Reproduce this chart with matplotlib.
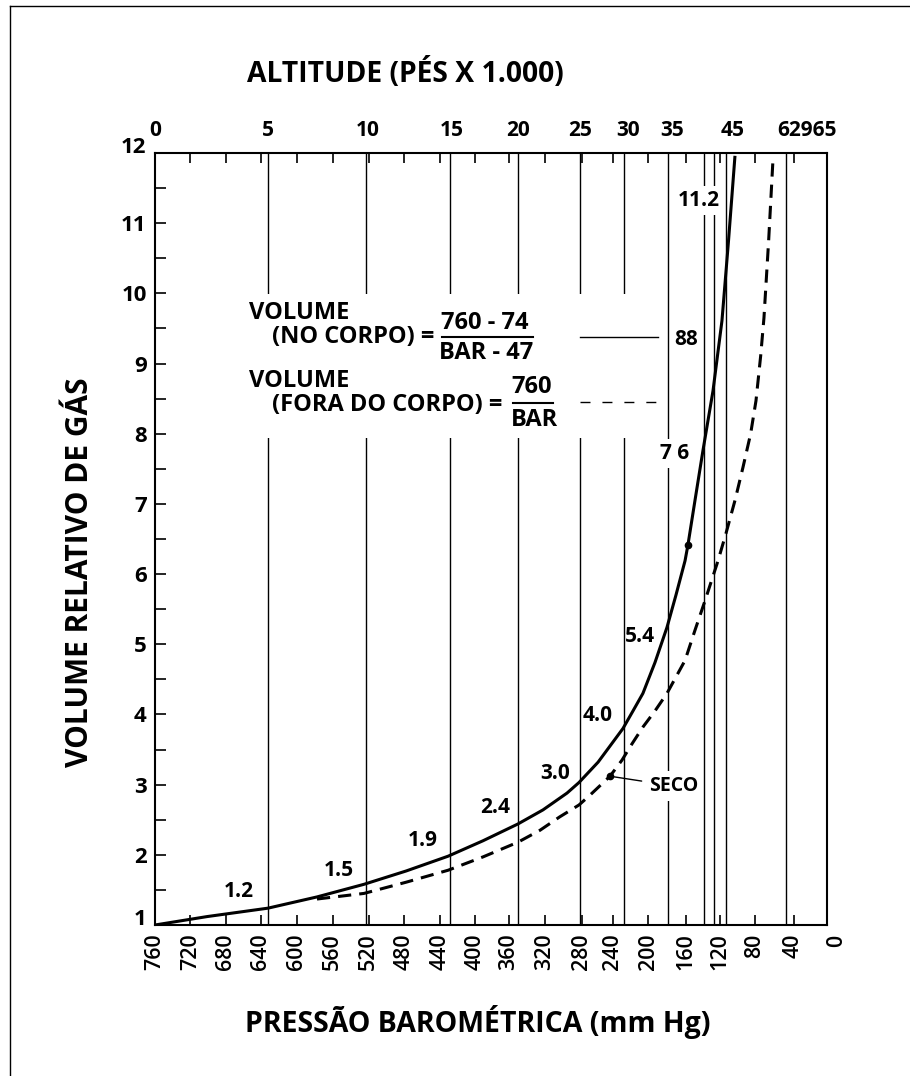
import numpy as np
import matplotlib
matplotlib.use('Agg')
import matplotlib.pyplot as plt
import matplotlib.transforms as mtransforms
from matplotlib.lines import Line2D
from matplotlib.patches import Rectangle

plt.rcParams['font.family'] = ['Open Sans', 'DejaVu Sans']
plt.rcParams['lines.scale_dashes'] = False

# ---------------- data ----------------
pressure_ticks = [760, 720, 680, 640, 600, 560, 520, 480, 440, 400, 360,
                  320, 280, 240, 200, 160, 120, 80, 40]
volume_ticks = list(range(1, 13))
volume_minor = [1.5, 2.5, 3.5, 4.5, 5.5, 6.5, 7.5, 8.5, 9.5, 10.5, 11.5]

# altitude reference lines (mm Hg at 5k ... 63k ft)
altitude_line_pressure = [632, 523, 429, 349, 282, 226, 179, 141, 128, 111, 47]
altitude_labels = ['0', '5', '10', '15', '20', '25', '30', '35', '45', '62965']
altitude_label_pressure = [760, 632, 521, 427, 349, 282, 222, 175, 104, 28]

# in body (solid)
body_pressure = [760, 701, 632, 577.5, 525.2, 478, 431.2, 390.2, 349, 322,
                 296, 283.1, 259, 243.8, 227.3, 216.4, 205.8, 192.9, 180.1,
                 170.6, 161, 158, 150.5, 142.1, 129.3, 116.7, 108.3, 101.4]
body_volume = [1.00, 1.12, 1.24, 1.40, 1.58, 1.77, 1.98, 2.20, 2.44, 2.64,
               2.88, 3.03, 3.32, 3.55, 3.80, 4.05, 4.30, 4.74, 5.24,
               5.70, 6.19, 6.41, 7.05, 7.76, 8.61, 9.61, 10.75, 11.96]

# outside body (dashed)
dry_pressure = [577.5, 525.2, 478, 431.2, 390.2, 349, 325.2, 304, 283.1,
                269.3, 243.8, 228.5, 217.5, 205.8, 192.9, 180.1, 161, 150.5,
                139.7, 122.3, 111, 101.4, 92.9, 84.7, 79.0, 74.0, 70.5,
                65.5, 60.9]
dry_volume = [1.37, 1.45, 1.61, 1.78, 1.97, 2.18, 2.35, 2.54, 2.71,
              2.85, 3.12, 3.35, 3.58, 3.82, 4.05, 4.30, 4.77, 5.20,
              5.62, 6.19, 6.58, 7.05, 7.52, 8.00, 8.47, 9.11, 9.65,
              10.75, 11.90]

body_dot = (158, 6.41)
dry_dot = (243.8, 3.12)

curve_labels = ['1.2', '1.5', '1.9', '2.4', '3.0', '4.0', '5.4', '7 6', '88', '11.2']
curve_label_pos = [(665, 1.48), (553, 1.78), (460, 2.20), (376, 2.68),
                   (309, 3.16), (259, 3.99), (209, 5.11), (172, 7.72),
                   (160, 9.34), (147, 11.32)]

# ---------------- scale (hand-drawn pressure axis) ----------------
scale_p = np.array([760, 632, 523, 429, 349, 282, 226, 179, 141, 128, 111, 47, 0], float)
scale_px = np.array([155, 268, 366, 450, 518, 580, 624, 668, 704, 714, 726, 786, 837], float)


def fwd(p):
    # increasing with pressure
    return -np.interp(-np.asarray(p, float), -scale_p, scale_px)


def inv(y):
    return np.interp(-np.asarray(y, float), scale_px, scale_p)


W, H = 910, 1076
fig = plt.figure(figsize=(W / 100, H / 100), dpi=100)
ax = fig.add_axes([155 / W, 1 - 925 / H, 672 / W, 772 / H])
ax.set_xscale('function', functions=(fwd, inv))

# outer frame (left and top)
fig.add_artist(Line2D([10 / W, 10 / W], [0, 1 - 6 / H], color='black', lw=1.0))
fig.add_artist(Line2D([10 / W, 1], [1 - 6 / H, 1 - 6 / H], color='black', lw=1.0))

for s in ax.spines.values():
    s.set_linewidth(1.5)

# altitude lines
for p in altitude_line_pressure:
    ax.axvline(p, color='black', lw=1.0, zorder=1)

# white background behind the formula block
ax.add_patch(Rectangle((0.1265, 0.631), 0.628, 0.186, transform=ax.transAxes,
                       facecolor='white', edgecolor='none', zorder=2))

# curves
ax.plot(body_pressure, body_volume, color='black', lw=2.2, zorder=3,
        solid_capstyle='butt', solid_joinstyle='round')
ax.plot(dry_pressure, dry_volume, color='black', lw=2.2, zorder=3,
        dashes=(9.5, 5.8), dash_capstyle='butt', dash_joinstyle='round')
ax.plot([body_dot[0]], [body_dot[1]], 'o', color='black', ms=4.5, zorder=4)
ax.plot([dry_dot[0]], [dry_dot[1]], 'o', color='black', ms=4.5, zorder=4)

# ticks
ax.set_xticks(pressure_ticks)
ax.set_xticklabels([str(v) for v in pressure_ticks], rotation=90,
                   fontsize=15.5, fontweight='semibold')
ax.tick_params(axis='x', which='major', direction='in', length=7, width=1.2,
               top=True, labeltop=False, pad=6)
ax.tick_params(axis='x', which='minor', bottom=False, top=False)
ax.set_yticks(volume_ticks)
ax.set_yticks(volume_minor, minor=True)
ylabels = ax.set_yticklabels([str(v) for v in volume_ticks], fontsize=16,
                             fontweight='bold')
ylabels[0].set_va('baseline')
ylabels[-1].set_va('baseline')
ax.tick_params(axis='y', which='both', direction='in', length=8, width=1.2, pad=6)

ax.set_xlim(760, 9.2)
ax.set_ylim(1, 12)

bx = mtransforms.blended_transform_factory(ax.transData, ax.transAxes)
ax.text(0, -0.0125, '0', transform=bx, rotation=90, ha='center', va='top',
        fontsize=15.5, fontweight='semibold', clip_on=False)

# top altitude labels
for lab, p in zip(altitude_labels, altitude_label_pressure):
    ax.text(p, 1.0155, lab, transform=bx, ha='center', va='bottom',
            fontsize=15, fontweight='bold', clip_on=False)

# curve labels
for lab, (p, v) in zip(curve_labels, curve_label_pos):
    kw = {}
    if lab in ('7 6', '11.2'):
        kw['bbox'] = dict(facecolor='white', edgecolor='none', pad=3)
    ax.text(p, v, lab, ha='center', va='center', fontsize=15,
            fontweight='bold', zorder=5, **kw)

ax.annotate('SECO', xy=dry_dot, xytext=(199, 2.98), ha='left', va='center',
            fontsize=14, fontweight='bold', zorder=5,
            bbox=dict(facecolor='white', edgecolor='none', pad=3.5),
            arrowprops=dict(arrowstyle='-', lw=1.0, color='black',
                            shrinkA=2, shrinkB=3))

# formula legend
tA = ax.transAxes
fs = 17
ax.text(0.140, 0.793, 'VOLUME', transform=tA, ha='left', va='center',
        fontsize=fs, fontweight='bold', zorder=5)
ax.text(0.174, 0.762, '(NO CORPO) =', transform=tA, ha='left', va='center',
        fontsize=fs, fontweight='bold', zorder=5)
ax.text(0.490, 0.780, '760 - 74', transform=tA, ha='center', va='center',
        fontsize=fs, fontweight='bold', zorder=5)
ax.add_line(Line2D([0.427, 0.5625], [0.762, 0.762], transform=tA,
                   color='black', lw=1.5, zorder=5))
ax.text(0.4925, 0.741, 'BAR - 47', transform=tA, ha='center', va='center',
        fontsize=fs, fontweight='bold', zorder=5)
ax.add_line(Line2D([0.632, 0.749], [0.762, 0.762], transform=tA,
                   color='black', lw=1.0, zorder=5))

ax.text(0.140, 0.705, 'VOLUME', transform=tA, ha='left', va='center',
        fontsize=fs, fontweight='bold', zorder=5)
ax.text(0.174, 0.674, '(FORA DO CORPO) =', transform=tA, ha='left', va='center',
        fontsize=fs, fontweight='bold', zorder=5)
ax.text(0.561, 0.697, '760', transform=tA, ha='center', va='center',
        fontsize=fs, fontweight='bold', zorder=5)
ax.add_line(Line2D([0.533, 0.592], [0.676, 0.676], transform=tA,
                   color='black', lw=1.5, zorder=5))
ax.text(0.565, 0.654, 'BAR', transform=tA, ha='center', va='center',
        fontsize=fs, fontweight='bold', zorder=5)
ax.add_line(Line2D([0.632, 0.749], [0.677, 0.677], transform=tA,
                   color='black', lw=1.0, dashes=(7.2, 8.6), zorder=5))

# titles
fig.text(405 / W, 1 - 82 / H, 'ALTITUDE (PÉS X 1.000)', ha='center',
         va='baseline', fontsize=20.3, fontweight='bold')
fig.text(478 / W, 1 - 1032 / H, 'PRESSÃO BAROMÉTRICA (mm Hg)', ha='center',
         va='baseline', fontsize=20.5, fontweight='bold')
fig.text(80 / W, 1 - 572 / H, 'VOLUME RELATIVO DE GÁS', ha='center',
         va='center', rotation=90, fontsize=21.5, fontweight='bold')

fig.savefig('out.png', dpi=100)
